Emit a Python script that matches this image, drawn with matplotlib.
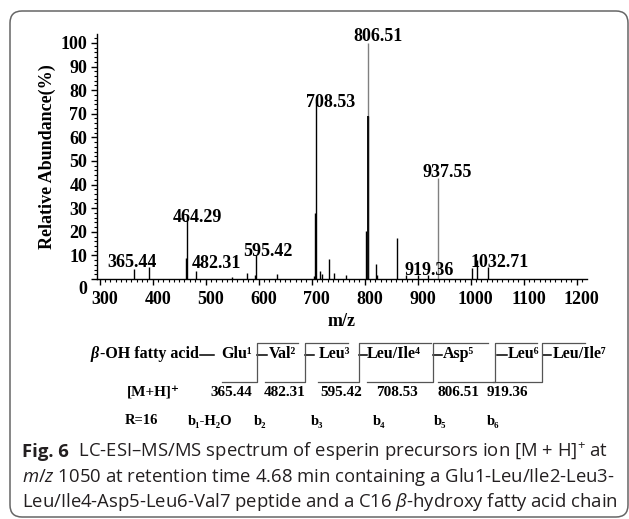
import matplotlib
matplotlib.use("Agg")
import matplotlib.pyplot as plt
import matplotlib.transforms as mtransforms
from matplotlib.patches import FancyBboxPatch
from matplotlib.ticker import MultipleLocator

CAP_FONT = "Open Sans"
plt.rcParams["mathtext.fontset"] = "custom"
plt.rcParams["mathtext.rm"] = CAP_FONT
plt.rcParams["mathtext.it"] = CAP_FONT + ":italic"
plt.rcParams["mathtext.bf"] = CAP_FONT + ":bold"

SERIF = ["Liberation Serif", "DejaVu Serif"]
INK = "#231f20"

# MS/MS peaks (m/z, relative abundance %)
PEAK_MZ = [365.44, 394.0, 462.0, 464.29, 482.31, 550.0, 578.0, 593.0, 595.42,
           635.0, 705.0, 707.0, 708.53, 716.0, 720.0, 733.0, 743.0, 764.0,
           803.0, 805.9, 806.51, 821.0, 823.0, 860.5, 879.0, 900.0, 919.36,
           937.55, 1002.0, 1011.5, 1032.71]
PEAK_INT = [4.2, 5.0, 9.0, 25.0, 3.5, 1.0, 2.7, 1.5, 10.0,
            2.2, 1.3, 28.0, 75.0, 3.5, 2.0, 8.3, 2.4, 1.7,
            20.5, 69.0, 100.0, 6.2, 1.7, 17.5, 1.7, 1.7, 1.7,
            43.0, 4.5, 8.0, 5.0]
GREY_PEAKS = [806.51, 937.55]

# labelled peaks and label offsets (pixels, right / up from the peak top)
LABEL_MZ = [365.44, 464.29, 482.31, 595.42, 708.53, 806.51, 919.36, 937.55, 1032.71]
LABEL_OFFSET = [(-2, 7), (11, 2), (20, 7), (12, 4), (14, -1), (10, 6), (1, 4), (10, 5), (12, 5)]

# fragmentation scheme
RESIDUES = ["Glu¹", "Val²", "Leu³", "Leu/Ile⁴", "Asp⁵", "Leu⁶", "Leu/Ile⁷"]
FRAG_MASS = ["[M+H]⁺", "365.44", "482.31", "595.42", "708.53", "806.51", "919.36"]
FRAG_ION = ["R=16", "b₁-H₂O", "b₂", "b₃", "b₄", "b₅", "b₆"]

CAPTION = [
    [("Fig. 6", "bold"), ("  LC-ESI–MS/MS spectrum of esperin precursors ion [M + H]$^{+}$ at", "normal")],
    [(r"$\mathit{m/z}$ 1050 at retention time 4.68 min containing a Glu1-Leu/Ile2-Leu3-", "normal")],
    [(r"Leu/Ile4-Asp5-Leu6-Val7 peptide and a C16 $\mathit{\beta}$-hydroxy fatty acid chain", "normal")],
]

fig = plt.figure(figsize=(6.29, 5.19), dpi=100)
renderer = fig.canvas.get_renderer()

# overlay in pixel coordinates for frame, scheme and caption
ov = fig.add_axes([0, 0, 1, 1], zorder=0)
ov.set_xlim(0, 629)
ov.set_ylim(519, 0)
ov.axis("off")

ov.add_patch(FancyBboxPatch((10, 11), 618, 506, boxstyle="round,pad=0,rounding_size=12",
                            fill=False, ec="#666666", lw=1.1))

# spectrum
ax = fig.add_axes([97 / 629, 1 - 279 / 519, 490 / 629, 245 / 519], zorder=1)
ax.patch.set_alpha(0)
for mz, h in zip(PEAK_MZ, PEAK_INT):
    col = "#808080" if mz in GREY_PEAKS else "black"
    ax.vlines(mz, 0, h, color=col, lw=1.0)
# black core of the base peak
ax.vlines(805.9, 0, 69.0, color="black", lw=1.3)

for mz, (dx, dy) in zip(LABEL_MZ, LABEL_OFFSET):
    h = PEAK_INT[PEAK_MZ.index(mz)]
    ax.annotate(f"{mz:.2f}", xy=(mz, h), xytext=(dx * 0.72, dy * 0.72),
                textcoords="offset points", ha="center", va="center",
                fontsize=13, fontweight="bold", family=SERIF)

ax.set_xlim(295, 1219.6)
ax.set_ylim(0, 103.8)
ax.xaxis.set_major_locator(MultipleLocator(100))
ax.xaxis.set_minor_locator(MultipleLocator(10))
ax.yaxis.set_major_locator(MultipleLocator(10))
ax.yaxis.set_minor_locator(MultipleLocator(2))
ax.spines["top"].set_visible(False)
ax.spines["right"].set_visible(False)
for s in ("left", "bottom"):
    ax.spines[s].set_linewidth(1.0)
ax.tick_params(which="major", length=4, width=1.0, pad=3)
ax.tick_params(which="minor", length=2, width=0.8)
ax.tick_params(axis="x", which="major", pad=5)
shift = mtransforms.ScaledTranslation(5 / 100, 0, fig.dpi_scale_trans)
for lab in ax.get_xticklabels():
    lab.set_transform(lab.get_transform() + shift)
# the zero label sits low, at the corner of the axes
yt = list(ax.get_yticks())
zero_lab = ax.get_yticklabels()[yt.index(0)]
zero_lab.set_transform(zero_lab.get_transform()
                       + mtransforms.ScaledTranslation(0, -8 / 100, fig.dpi_scale_trans))
for lab in ax.get_xticklabels() + ax.get_yticklabels():
    lab.set_fontsize(13)
    lab.set_fontweight("bold")
    lab.set_family(SERIF)
ax.set_xlabel("m/z", fontsize=13, fontweight="bold", family=SERIF, labelpad=3)
ax.set_ylabel("Relative Abundance(%)", fontsize=13, fontweight="bold", family=SERIF,
              labelpad=3)

# scheme: beta-OH fatty acid - residues, with fragment brackets
ty = 354
fs = 11.5
ov.text(91, ty, "β", fontsize=fs, fontweight="bold", fontstyle="italic",
        family=SERIF, va="center", ha="left")
ov.text(100, ty, "-OH fatty acid", fontsize=fs, fontweight="bold", family=SERIF,
        va="center", ha="left")
res_x = [221, 269, 319, 367, 443, 508, 553]
dash_x = [(200, 214), (257, 267), (305, 314), (359, 367), (433, 442), (497, 507), (543, 551)]
for name, x in zip(RESIDUES, res_x):
    ov.text(x, ty, name, fontsize=fs, fontweight="bold", family=SERIF,
            va="center", ha="left")
for x0, x1 in dash_x:
    ov.plot([x0, x1], [ty + 1, ty + 1], color="black", lw=1.1)

brk_x = [257, 305, 359.3, 432.7, 495, 541.7]
top_end = [298, 348, 431, 488, 537, 585]
bot_start = [222, 265, 318, 367, 438, 493]
for x, xt, xb in zip(brk_x, top_end, bot_start):
    ov.plot([xb, x, x, xt], [381.7, 381.7, 342.5, 342.5], color="#555555", lw=0.9)

mass_x = [153, 231, 285, 341, 397, 459, 507]
for txt, x in zip(FRAG_MASS, mass_x):
    ov.text(x, 393, txt, fontsize=11, fontweight="bold", family=SERIF,
            va="center", ha="center")
ion_x = [141, 210, 260, 317, 379, 440, 493]
for txt, x in zip(FRAG_ION, ion_x):
    ov.text(x, 421, txt, fontsize=10.5, fontweight="bold", family=SERIF,
            va="center", ha="center")

# caption, pieces placed one after another
for i, line in enumerate(CAPTION):
    x = 22
    for txt, wt in line:
        t = ov.text(x, 457 + 25 * i, txt, fontsize=13.3, family=CAP_FONT,
                    fontweight=wt, va="baseline", ha="left", color=INK)
        x += t.get_window_extent(renderer).width

fig.savefig("out.png", dpi=100)
